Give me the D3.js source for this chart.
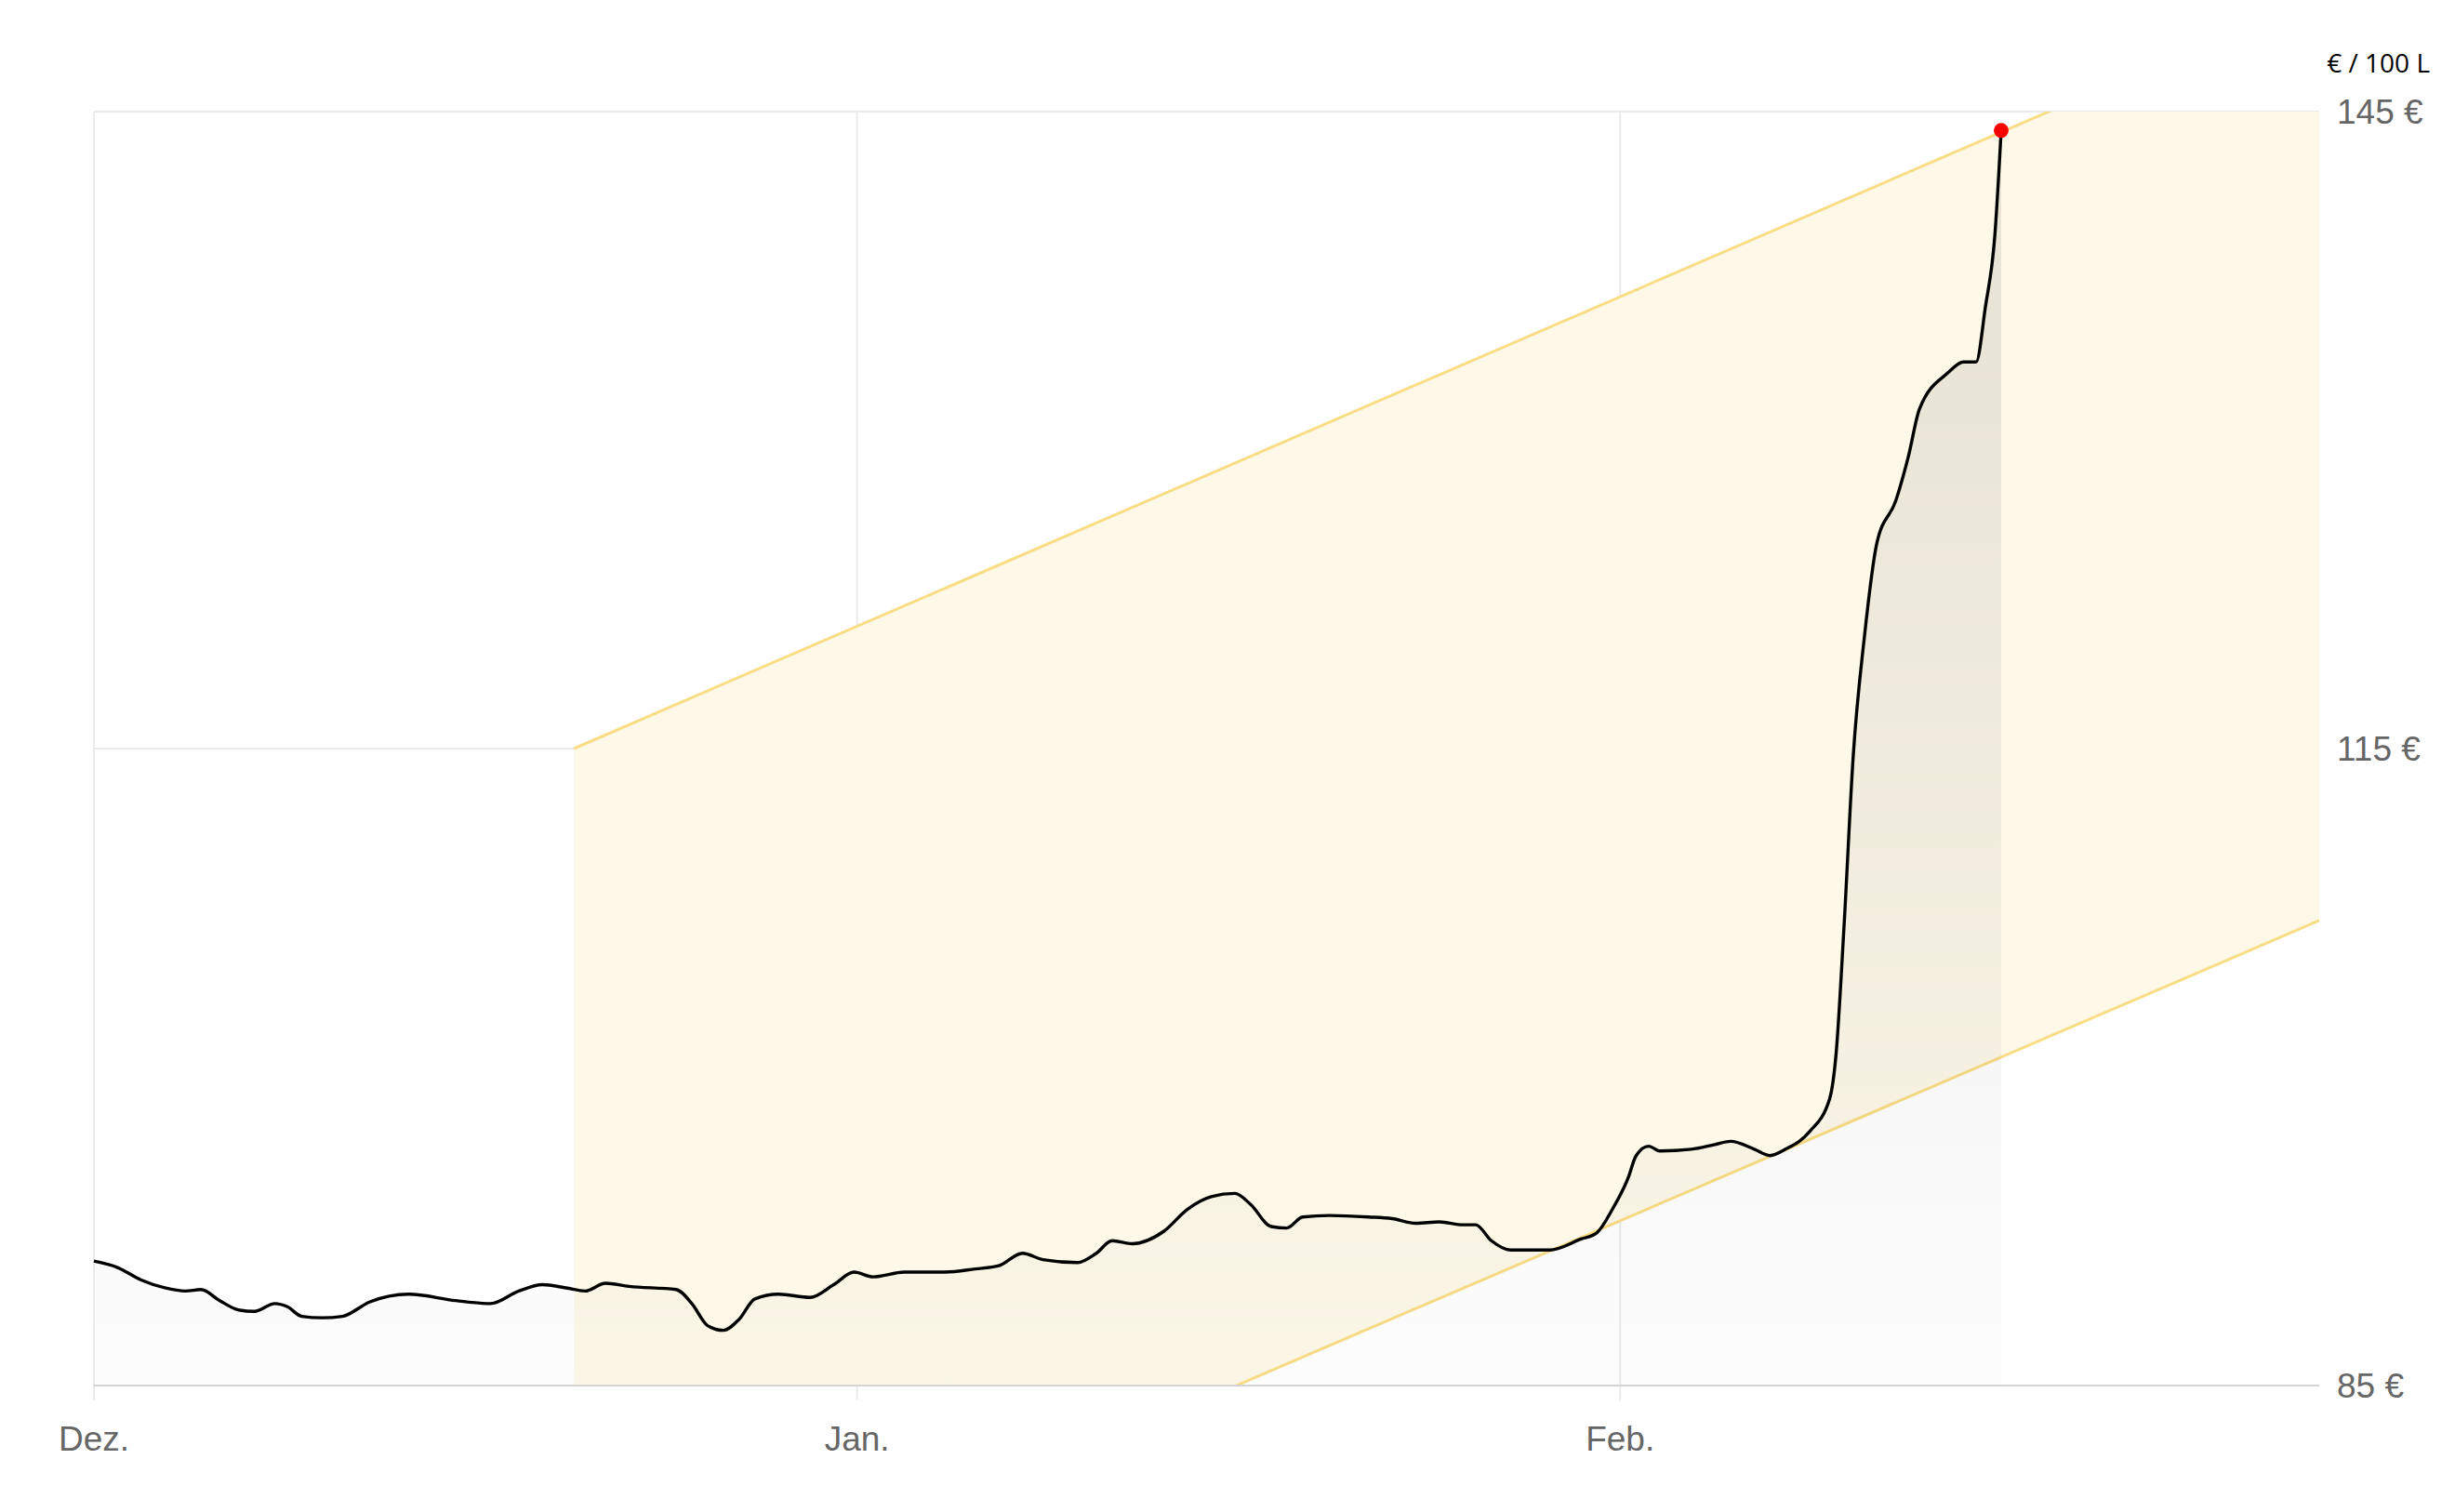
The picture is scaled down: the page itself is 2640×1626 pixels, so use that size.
<!DOCTYPE html>
<html>
<head>
<meta charset="utf-8">
<script src="https://cdn.jsdelivr.net/npm/d3@7"></script>
<style>
  body { margin: 0; background: #fff; }
  svg text { font-family: "Liberation Sans", Arial, sans-serif; }
</style>
</head>
<body>
<svg id="chart" width="2640" height="1626"></svg>
<script>
// days since 1 Dec
var days = [0,0.96,1.92,2.88,3.71,4.35,5.11,5.88,6.52,7.35,7.86,8.44,9.27,10.1,11.19,12.79,14.7,16.11,17.26,18.22,19.18,19.95,20.78,21.74,23.65,24.29,24.93,25.57,26.21,26.85,27.81,29.09,30.05,30.88,31.65,32.92,34.52,35.8,36.76,37.72,38.55,39.96,40.72,41.36,42.19,43.47,44.43,45.39,46.35,46.99,47.82,48.46,49.1,50.18,51.78,52.74,53.7,54.66,55.62,56.13,56.77,57.54,59.13,60.41,61.05,61.69,62.33,62.65,63.16,63.61,64.89,65.85,66.49,67.45,68.09,68.72,69.68,70.51,70.77,71.09,71.47,71.92,72.43,73.2,73.71,74.16,75.31,75.95,76.46,76.84,77.22,77.48];
var price = [90.86,90.56,89.97,89.6,89.45,89.52,89.0,88.56,88.49,88.86,88.71,88.26,88.19,88.26,88.93,89.3,89.0,88.86,89.45,89.75,89.6,89.45,89.82,89.67,89.52,88.86,87.82,87.6,88.12,89.08,89.3,89.15,89.75,90.34,90.12,90.34,90.34,90.49,90.64,91.23,90.93,90.79,91.23,91.82,91.68,92.27,93.31,93.9,94.05,93.53,92.49,92.42,92.94,93.01,92.94,92.86,92.64,92.71,92.57,92.57,91.82,91.38,91.38,91.9,92.19,93.31,94.79,95.83,96.27,96.05,96.13,96.35,96.5,96.13,95.83,96.13,96.94,98.5,100.58,106.51,114.67,120.23,124.68,126.68,128.76,130.99,132.69,133.21,133.21,135.81,139.14,144.11];

var bandDays = [19.5, 90.4];
var bandUpper = [115, 150.5];
var bandLower = [71.6, 106.9];

var monthDays = [0, 31, 62];
var monthLabels = ["Dez.", "Jan.", "Feb."];
var yTicks = [85, 115, 145];

var svg = d3.select("#chart");
var mLeft = 101, mRight = 2494, mTop = 120, mBottom = 1490;

var x = d3.scaleLinear().domain([0, 90.4]).range([mLeft, mRight]);
var y = d3.scaleLinear().domain([85, 145]).range([mBottom, mTop]);

var defs = svg.append("defs");
defs.append("clipPath").attr("id", "plot")
  .append("rect").attr("x", mLeft).attr("y", mTop).attr("width", mRight - mLeft).attr("height", mBottom - mTop);
var grad = defs.append("linearGradient").attr("id", "fade")
  .attr("gradientUnits", "userSpaceOnUse")
  .attr("x1", 0).attr("x2", 0).attr("y1", y(135)).attr("y2", mBottom);
grad.append("stop").attr("offset", "0%").attr("stop-color", "#000").attr("stop-opacity", 0.08);
grad.append("stop").attr("offset", "100%").attr("stop-color", "#000").attr("stop-opacity", 0.01);

// grid
svg.append("g").selectAll("line").data(yTicks.slice(1)).enter().append("line")
  .attr("x1", mLeft).attr("x2", mRight).attr("y1", function(d){ return y(d); }).attr("y2", function(d){ return y(d); })
  .attr("stroke", "#ebebeb").attr("stroke-width", 2);
svg.append("g").selectAll("line").data(monthDays).enter().append("line")
  .attr("x1", function(d){ return x(d); }).attr("x2", function(d){ return x(d); })
  .attr("y1", mTop).attr("y2", mBottom + 16)
  .attr("stroke", "#ebebeb").attr("stroke-width", 2);

// band
var bandData = bandDays.map(function(d, i){ return [d, bandUpper[i], bandLower[i]]; });
var g = svg.append("g").attr("clip-path", "url(#plot)");
g.append("path").datum(bandData)
  .attr("d", d3.area().x(function(d){ return x(d[0]); }).y0(function(d){ return y(d[2]); }).y1(function(d){ return y(d[1]); }))
  .attr("fill", "#fdf8e8");
[1, 2].forEach(function(k){
  g.append("path").datum(bandData)
    .attr("d", d3.line().x(function(d){ return x(d[0]); }).y(function(d){ return y(d[k]); }))
    .attr("fill", "none").attr("stroke", "#f9dd85").attr("stroke-width", 3);
});

// price
var pts = days.map(function(d, i){ return [d, price[i]]; });
g.append("path").datum(pts)
  .attr("d", d3.area().curve(d3.curveMonotoneX).x(function(d){ return x(d[0]); }).y0(mBottom).y1(function(d){ return y(d[1]); }))
  .attr("fill", "url(#fade)");
svg.append("path").datum(pts)
  .attr("d", d3.line().curve(d3.curveMonotoneX).x(function(d){ return x(d[0]); }).y(function(d){ return y(d[1]); }))
  .attr("fill", "none").attr("stroke", "#000").attr("stroke-width", 3.4);

// axis baseline
svg.append("line").attr("x1", mLeft).attr("x2", mRight).attr("y1", mBottom).attr("y2", mBottom)
  .attr("stroke", "#d4d4d4").attr("stroke-width", 2);

var last = pts[pts.length - 1];
svg.append("circle").attr("cx", x(last[0])).attr("cy", y(last[1])).attr("r", 8).attr("fill", "#f00");

// labels
svg.append("g").selectAll("text").data(yTicks).enter().append("text")
  .attr("x", mRight + 19).attr("y", function(d){ return y(d); }).attr("dy", "0.35em")
  .attr("font-size", 37).attr("fill", "#666")
  .text(function(d){ return d + " €"; });
svg.append("g").selectAll("text").data(monthDays).enter().append("text")
  .attr("x", function(d){ return x(d); }).attr("y", 1560)
  .attr("text-anchor", "middle").attr("font-size", 37).attr("fill", "#666")
  .text(function(d, i){ return monthLabels[i]; });
svg.append("text").attr("x", 2613).attr("y", 78).attr("text-anchor", "end")
  .attr("font-size", 28).attr("fill", "#000").style("font-family", "'Open Sans', sans-serif")
  .text("€ / 100 L");
</script>
</body>
</html>
